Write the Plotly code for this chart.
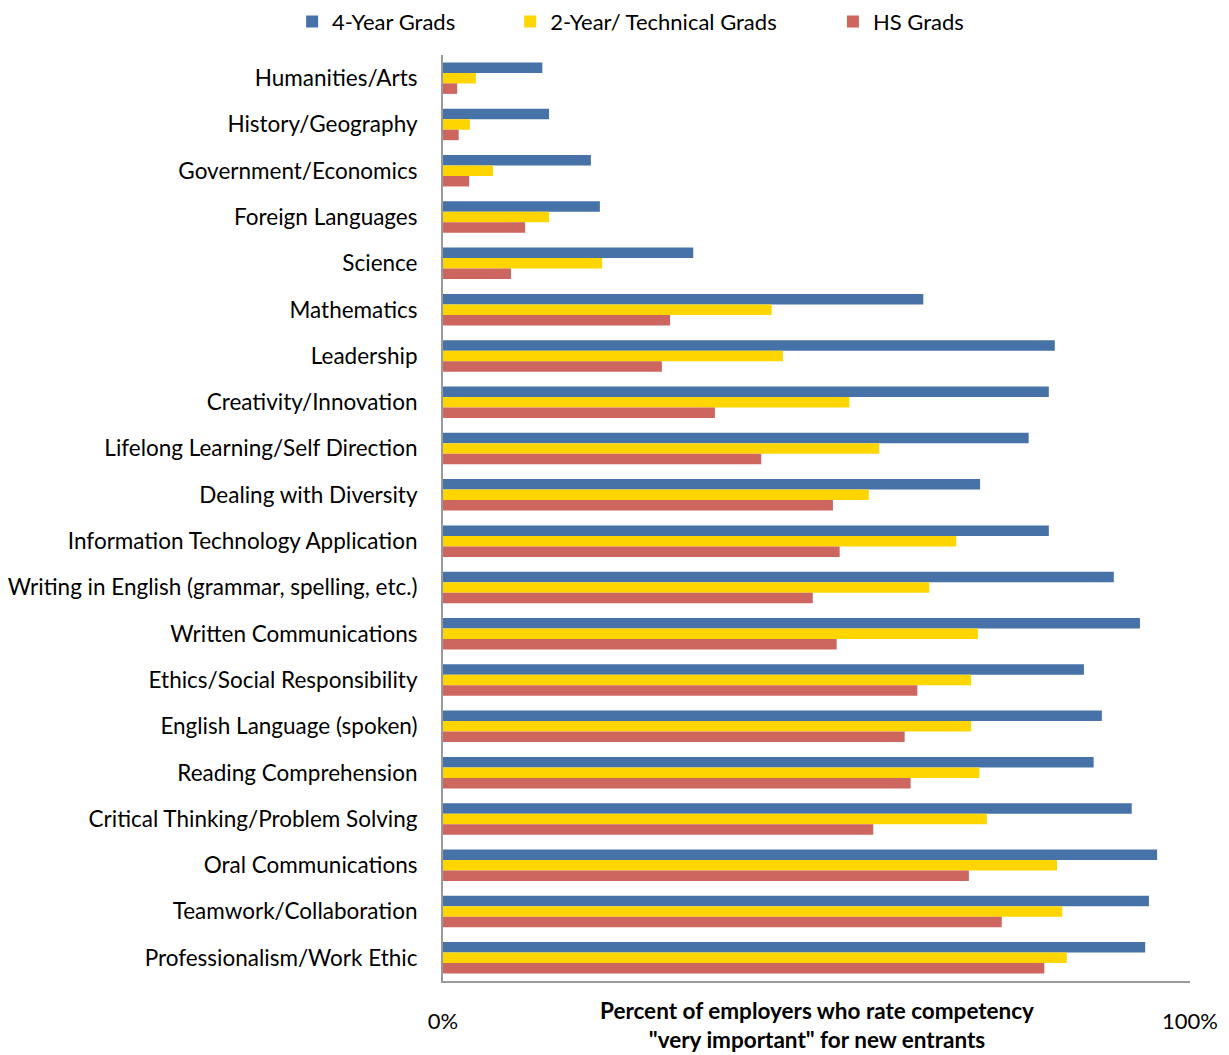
import plotly.graph_objects as go

categories = [
    "Humanities/Arts",
    "History/Geography",
    "Government/Economics",
    "Foreign Languages",
    "Science",
    "Mathematics",
    "Leadership",
    "Creativity/Innovation",
    "Lifelong Learning/Self Direction",
    "Dealing with Diversity",
    "Information Technology Application",
    "Writing in English (grammar, spelling, etc.)",
    "Written Communications",
    "Ethics/Social Responsibility",
    "English Language (spoken)",
    "Reading Comprehension",
    "Critical Thinking/Problem Solving",
    "Oral Communications",
    "Teamwork/Collaboration",
    "Professionalism/Work Ethic",
]

four_year = [13.3, 14.2, 19.8, 21.0, 33.5, 64.3, 81.9, 81.1, 78.4, 71.9,
             81.1, 89.8, 93.3, 85.8, 88.2, 87.1, 92.2, 95.6, 94.5, 94.0]
two_year = [4.4, 3.6, 6.7, 14.2, 21.3, 44.0, 45.5, 54.4, 58.4, 57.0,
            68.7, 65.1, 71.6, 70.7, 70.7, 71.8, 72.8, 82.2, 82.9, 83.5]
hs_grads = [1.9, 2.1, 3.5, 11.0, 9.1, 30.4, 29.3, 36.4, 42.6, 52.2,
            53.1, 49.5, 52.7, 63.5, 61.8, 62.6, 57.6, 70.4, 74.8, 80.5]

series = [
    ("4-Year Grads", four_year, "#4672A8", "legend"),
    ("2-Year/ Technical Grads", two_year, "#FFD500", "legend2"),
    ("HS Grads", hs_grads, "#CD665F", "legend3"),
]

FONT = "Lato"

fig = go.Figure()
for name, vals, color, leg in series:
    fig.add_trace(
        go.Bar(
            y=categories,
            x=vals,
            name=name,
            orientation="h",
            marker=dict(color=color, line=dict(width=0)),
            legend=leg,
        )
    )

# page has an 8px body margin, so margins are nudged to compensate
legend_style = dict(
    orientation="h",
    yref="paper",
    y=1.0586,
    yanchor="top",
    xanchor="left",
    font=dict(family=FONT, size=22, color="#000"),
    bgcolor="rgba(0,0,0,0)",
    itemwidth=30,
)

fig.update_layout(
    width=1229,
    height=1055,
    margin=dict(l=435, r=47, t=47, b=82, autoexpand=False),
    paper_bgcolor="white",
    plot_bgcolor="white",
    font=dict(family=FONT, size=22, color="#000"),
    barmode="group",
    bargap=0.32,
    bargroupgap=0,
    showlegend=True,
    legend=dict(legend_style, x=-0.202),
    legend2=dict(legend_style, x=0.09),
    legend3=dict(legend_style, x=0.522),
    xaxis=dict(
        range=[0, 100],
        tickvals=[0, 100],
        ticktext=["0%", "100%"],
        showgrid=False,
        zeroline=False,
        showline=True,
        linecolor="#9a9a9a",
        linewidth=2,
        ticks="",
        ticklabelstandoff=20,
        tickfont=dict(family=FONT, size=22),
        automargin=False,
    ),
    yaxis=dict(
        autorange="reversed",
        showgrid=False,
        zeroline=False,
        showline=True,
        linecolor="#9a9a9a",
        linewidth=2,
        ticks="",
        ticklabelstandoff=19,
        tickfont=dict(family=FONT, size=22.5),
        automargin=False,
    ),
    annotations=[
        dict(
            text="<b>Percent of employers who rate competency</b><br>"
                 "<b>\"very important\" for new entrants</b>",
            x=0.5,
            xref="paper",
            y=-0.048,
            yref="paper",
            xanchor="center",
            yanchor="middle",
            showarrow=False,
            font=dict(family=FONT, size=22.5, color="#000"),
        )
    ],
)

fig.write_html("out.html")
